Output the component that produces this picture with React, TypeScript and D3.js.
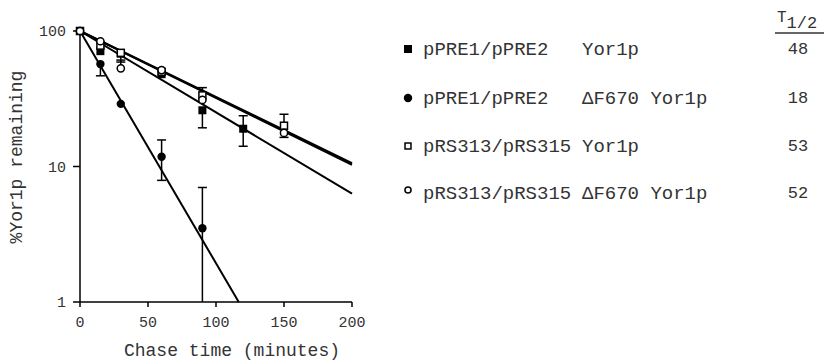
import React from 'react';
import * as d3 from 'd3';

// Chase time points (minutes) and % Yor1p remaining
const xTicks = [0, 50, 100, 150, 200];
const yTicks = [1, 10, 100];

const filledSquarePts = [
  { t: 0, v: 100 }, { t: 15, v: 71 }, { t: 30, v: 68 }, { t: 60, v: 48 }, { t: 90, v: 26 }, { t: 120, v: 19 },
];
const filledSquareErr = [
  { t: 30, v: 68, lo: 59 }, { t: 90, v: 26, lo: 19.3 }, { t: 120, v: 19, hi: 23.7, lo: 14.1 },
];

const filledCirclePts = [
  { t: 0, v: 100 }, { t: 15, v: 57 }, { t: 30, v: 29 }, { t: 60, v: 11.8 }, { t: 90, v: 3.5 },
];
const filledCircleErr = [
  { t: 15, v: 57, lo: 46.7 }, { t: 60, v: 11.8, hi: 15.7, lo: 7.9 }, { t: 90, v: 3.5, hi: 7.0, lo: 1, noLoCap: true },
];

const openSquarePts = [
  { t: 0, v: 100 }, { t: 15, v: 78 }, { t: 30, v: 69 }, { t: 60, v: 50 }, { t: 90, v: 33.5 }, { t: 150, v: 20 },
];
const openSquareErr = [
  { t: 90, v: 33.5, hi: 38.2 }, { t: 150, v: 20, hi: 24.3 },
];

const openCirclePts = [
  { t: 0, v: 100 }, { t: 15, v: 84 }, { t: 30, v: 53 }, { t: 60, v: 51.5 }, { t: 90, v: 31 }, { t: 150, v: 17.7 },
];
const openCircleErr = [
  { t: 30, v: 53, hi: 61 }, { t: 150, v: 17.7, lo: 16.4 },
];

// fitted decay lines: start and end points as drawn
const fitLines = [
  { from: { t: 0, v: 100 }, to: { t: 200, v: 6.3 } },
  { from: { t: 0, v: 100 }, to: { t: 116.7, v: 1 } },
  { from: { t: 0, v: 100 }, to: { t: 200, v: 10.6 } },
  { from: { t: 0, v: 100 }, to: { t: 200, v: 10.3 } },
];

const legendNames = ['pPRE1/pPRE2', 'pPRE1/pPRE2', 'pRS313/pRS315', 'pRS313/pRS315'];
const legendProteins = ['Yor1p', '\u0394F670 Yor1p', 'Yor1p', '\u0394F670 Yor1p'];
const legendMarkers = ['fsq', 'fci', 'osq', 'oci'];
const halfLives = ['48', '18', '53', '52'];

const FONT = '"Liberation Mono", "DejaVu Sans Mono", monospace';
const TXT = '#333';

const x = d3.scaleLinear().domain([0, 200]).range([80, 352]);
const y = d3.scaleLog().domain([1, 100]).range([302, 31]);

function Marker({ kind, cx, cy, s = 1 }: { kind: string; cx: number; cy: number; s?: number }) {
  if (kind === 'fsq') return <rect x={cx - 4 * s} y={cy - 4 * s} width={8 * s} height={8 * s} fill="#000" />;
  if (kind === 'fci') return <circle cx={cx} cy={cy} r={4.2 * s} fill="#000" />;
  if (kind === 'osq')
    return <rect x={cx - 3.5 * s} y={cy - 3.5 * s} width={7 * s} height={7 * s} fill="#fff" stroke="#000" strokeWidth={1.5} />;
  return <circle cx={cx} cy={cy} r={3.6 * s} fill="#fff" stroke="#000" strokeWidth={1.5} />;
}

function ErrBars({ data }: { data: any[] }) {
  return (
    <g stroke="#000" strokeWidth={1.5}>
      {data.map((d, i) => {
        const cx = x(d.t);
        const parts = [];
        if (d.hi !== undefined) {
          parts.push(<line key="h" x1={cx} x2={cx} y1={y(d.v)} y2={y(d.hi)} />);
          parts.push(<line key="hc" x1={cx - 4.5} x2={cx + 4.5} y1={y(d.hi)} y2={y(d.hi)} />);
        }
        if (d.lo !== undefined) {
          parts.push(<line key="l" x1={cx} x2={cx} y1={y(d.v)} y2={y(d.lo)} />);
          if (!d.noLoCap) parts.push(<line key="lc" x1={cx - 4.5} x2={cx + 4.5} y1={y(d.lo)} y2={y(d.lo)} />);
        }
        return <g key={i}>{parts}</g>;
      })}
    </g>
  );
}

export default function App() {
  const series = [
    { kind: 'fsq', pts: filledSquarePts },
    { kind: 'fci', pts: filledCirclePts },
    { kind: 'osq', pts: openSquarePts },
    { kind: 'oci', pts: openCirclePts },
  ];
  const legendY = [49, 98, 146, 193];
  return (
    <svg width={824} height={362} style={{ position: 'absolute', left: 0, top: 0, background: '#fff' }}>
      {/* axes */}
      <g stroke="#000" strokeWidth={1.5} fill="none">
        <line x1={x(0)} x2={x(200)} y1={y(1)} y2={y(1)} />
        <line x1={x(0)} x2={x(0)} y1={y(1)} y2={y(100)} />
        {xTicks.map(t => (
          <line key={t} x1={x(t)} x2={x(t)} y1={y(1)} y2={y(1) + 5} />
        ))}
        {yTicks.map(v => (
          <line key={v} x1={x(0) - 7} x2={x(0)} y1={y(v)} y2={y(v)} />
        ))}
      </g>
      <g fontFamily={FONT} fontSize={15} fill={TXT}>
        {xTicks.map(t => (
          <text key={t} x={x(t)} y={327} textAnchor="middle">{t}</text>
        ))}
        {yTicks.map(v => (
          <text key={v} x={66} y={y(v) + 5} textAnchor="end">{v}</text>
        ))}
      </g>
      <text x={232} y={356} textAnchor="middle" fontFamily={FONT} fontSize={18} fill={TXT}>
        Chase time (minutes)
      </text>
      <text transform="translate(22,157) rotate(-90)" textAnchor="middle" fontFamily={FONT} fontSize={18} fill={TXT}>
        %Yor1p remaining
      </text>

      {/* fitted lines */}
      <g stroke="#000" strokeWidth={2} fill="none">
        {fitLines.map((f, i) => (
          <line key={i} x1={x(f.from.t)} y1={y(f.from.v)} x2={x(f.to.t)} y2={y(f.to.v)} />
        ))}
      </g>

      {/* error bars */}
      <ErrBars data={filledSquareErr} />
      <ErrBars data={filledCircleErr} />
      <ErrBars data={openSquareErr} />
      <ErrBars data={openCircleErr} />

      {/* markers */}
      {series.map(s => (
        <g key={s.kind}>
          {s.pts.map((p, i) => (
            <Marker key={i} kind={s.kind} cx={x(p.t)} cy={y(p.v)} />
          ))}
        </g>
      ))}

      {/* legend */}
      {legendNames.map((n, i) => (
        <g key={i}>
          <Marker kind={legendMarkers[i]} cx={408} cy={legendY[i] - (i === 3 ? 3 : 0)} s={i >= 2 ? 0.85 : 1} />
          <text x={423} y={legendY[i] + 6} fontFamily={FONT} fontSize={19} fill={TXT}>{n}</text>
          <text x={582} y={legendY[i] + 6} fontFamily={FONT} fontSize={19} fill={TXT}>{legendProteins[i]}</text>
          <text x={798} y={legendY[i] + 5} textAnchor="middle" fontFamily={FONT} fontSize={17} fill={TXT}>{halfLives[i]}</text>
        </g>
      ))}
      <text x={777} y={22} fontFamily={FONT} fontSize={16} fill={TXT}>
        T<tspan dy={6} fontSize={17}>1/2</tspan>
      </text>
      <line x1={775} x2={824} y1={33} y2={33} stroke="#333" strokeWidth={1.5} />
    </svg>
  );
}
